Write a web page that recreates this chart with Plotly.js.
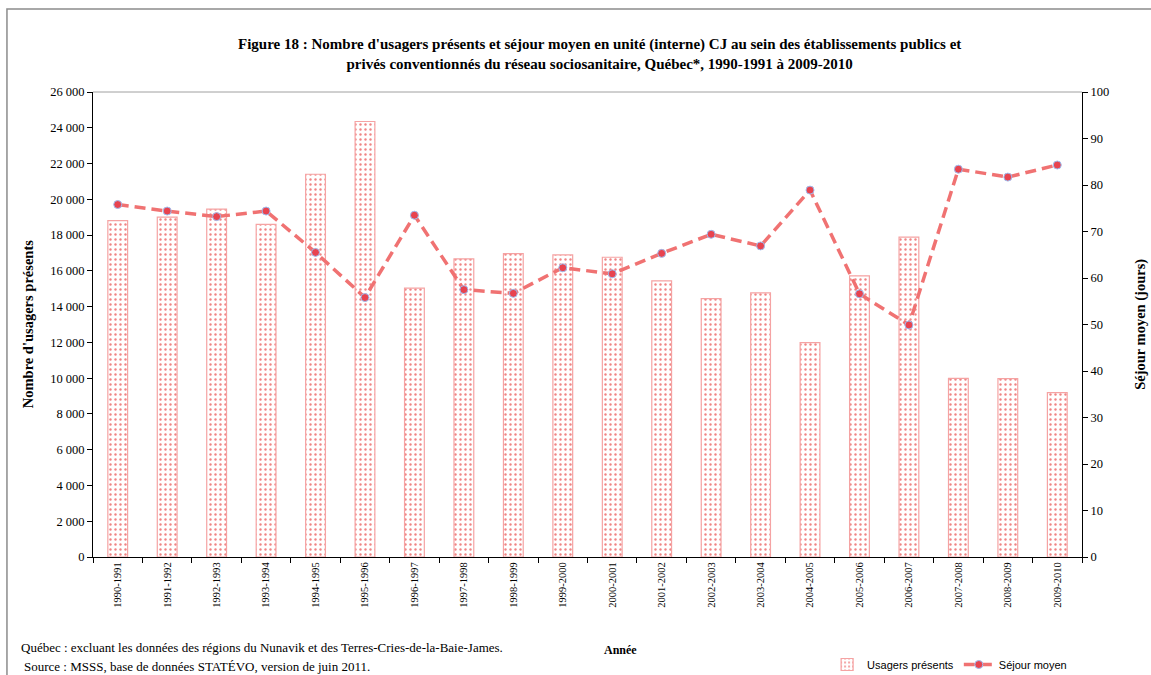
<!DOCTYPE html>
<html>
<head>
<meta charset="utf-8">
<script src="https://cdn.plot.ly/plotly-3.0.1.min.js"></script>
<style>html,body{margin:0;padding:0;background:#fff;}#chart{width:1151px;height:675px;}</style>
</head>
<body>
<div id="chart"></div>
<script>
const annees = ["1990-1991","1991-1992","1992-1993","1993-1994","1994-1995","1995-1996","1996-1997","1997-1998","1998-1999","1999-2000","2000-2001","2001-2002","2002-2003","2003-2004","2004-2005","2005-2006","2006-2007","2007-2008","2008-2009","2009-2010"];
const usagers = [18810,19000,19450,18600,21400,24350,15030,16670,16960,16890,16760,15440,14450,14770,11990,15720,17880,9990,9970,9190];
const sejour = [75.8,74.4,73.2,74.4,65.5,55.8,73.5,57.5,56.7,62.2,60.9,65.3,69.4,66.9,78.9,56.6,49.9,83.4,81.7,84.3];

const serif = "Liberation Serif, Times New Roman, serif";
const sans = "Liberation Sans, Arial, sans-serif";

const traces = [
  {
    type: 'bar', name: 'Usagers présents', x: annees, y: usagers,
    width: 0.4,
    marker: {
      color: '#ffffff',
      line: {color: '#f5a3a3', width: 1.2},
      pattern: {shape: '.', fgcolor: '#f08484', bgcolor: '#ffffff', size: 5, solidity: 0.18}
    },
    yaxis: 'y'
  },
  {
    type: 'scatter', mode: 'lines+markers', name: 'Séjour moyen', x: annees, y: sejour,
    line: {color: '#f07272', width: 3.5, dash: '11px,6px'},
    marker: {symbol: 'circle', size: 8, color: '#e8434f', line: {color: '#9dbdf0', width: 1}},
    yaxis: 'y2'
  }
];

const layout = {
  width: 1151, height: 675,
  paper_bgcolor: '#ffffff', plot_bgcolor: '#ffffff',
  separators: ', ',
  margin: {l: 93, r: 69, t: 92, b: 118, autoexpand: false},
  font: {family: serif, size: 12, color: '#000'},
  title: {
    text: "<b>Figure 18 : Nombre d'usagers présents et séjour moyen en unité (interne) CJ au sein des établissements publics et<br>privés conventionnés du réseau sociosanitaire, Québec*, 1990-1991 à 2009-2010</b>",
    font: {family: serif, size: 15, color: '#000'},
    x: 0.521, xanchor: 'center', y: 0.927, yanchor: 'middle'
  },
  showlegend: true,
  legend: {
    orientation: 'h', x: 0.99, xanchor: 'right', y: -0.2, yanchor: 'top',
    font: {family: sans, size: 11, color: '#000'},
    traceorder: 'normal'
  },
  bargap: 0.6,
  xaxis: {
    type: 'category', tickangle: -90, range: [-0.5, 19.5], autorange: false,
    tickfont: {family: serif, size: 10.5},
    showline: true, linecolor: '#000', linewidth: 1,
    ticks: 'outside', ticklen: 5, tickcolor: '#000', tickson: 'boundaries',
    showgrid: false, zeroline: false, fixedrange: true
  },
  yaxis: {
    range: [0, 26000], dtick: 2000, tickformat: ',d',
    tickfont: {family: serif, size: 12.5},
    showline: true, linecolor: '#000', linewidth: 1,
    ticks: 'outside', ticklen: 5, tickcolor: '#000',
    showgrid: false, zeroline: false
  },
  yaxis2: {
    range: [0, 100], dtick: 10, overlaying: 'y', side: 'right',
    tickfont: {family: serif, size: 12.5},
    showline: true, linecolor: '#000', linewidth: 1,
    ticks: 'outside', ticklen: 5, tickcolor: '#000',
    showgrid: false, zeroline: false
  },
  shapes: [
    {type: 'line', xref: 'paper', yref: 'paper', x0: 0, x1: 1, y0: 1, y1: 1, line: {color: '#a0a0a0', width: 1}},
    {type: 'rect', xref: 'paper', yref: 'paper', x0: -0.087, x1: 1.12, y0: -0.32, y1: 1.1785, line: {color: '#8c8c8c', width: 1.5}, fillcolor: 'rgba(0,0,0,0)', layer: 'below'}
  ],
  annotations: [
    {text: "<b>Nombre d'usagers présents</b>", xref: 'paper', yref: 'paper', x: -0.066, y: 0.5, textangle: -90, showarrow: false, font: {family: serif, size: 14.5}, xanchor: 'center', yanchor: 'middle'},
    {text: "<b>Séjour moyen (jours)</b>", xref: 'paper', yref: 'paper', x: 1.059, y: 0.5, textangle: -90, showarrow: false, font: {family: serif, size: 14.5}, xanchor: 'center', yanchor: 'middle'},
    {text: "<b>Année</b>", xref: 'paper', yref: 'paper', x: 0.533, y: -0.2, showarrow: false, font: {family: serif, size: 12}, xanchor: 'center', yanchor: 'middle'},
    {text: "Québec : excluant les données des régions du Nunavik et des Terres-Cries-de-la-Baie-James.", xref: 'paper', yref: 'paper', x: -0.075, y: -0.195, showarrow: false, font: {family: serif, size: 13}, xanchor: 'left', yanchor: 'middle'},
    {text: "Source : MSSS, base de données STATÉVO, version de juin 2011.", xref: 'paper', yref: 'paper', x: -0.072, y: -0.235, showarrow: false, font: {family: serif, size: 13}, xanchor: 'left', yanchor: 'middle'}
  ]
};

Plotly.newPlot('chart', traces, layout, {displayModeBar: false, staticPlot: true});
</script>
</body>
</html>
